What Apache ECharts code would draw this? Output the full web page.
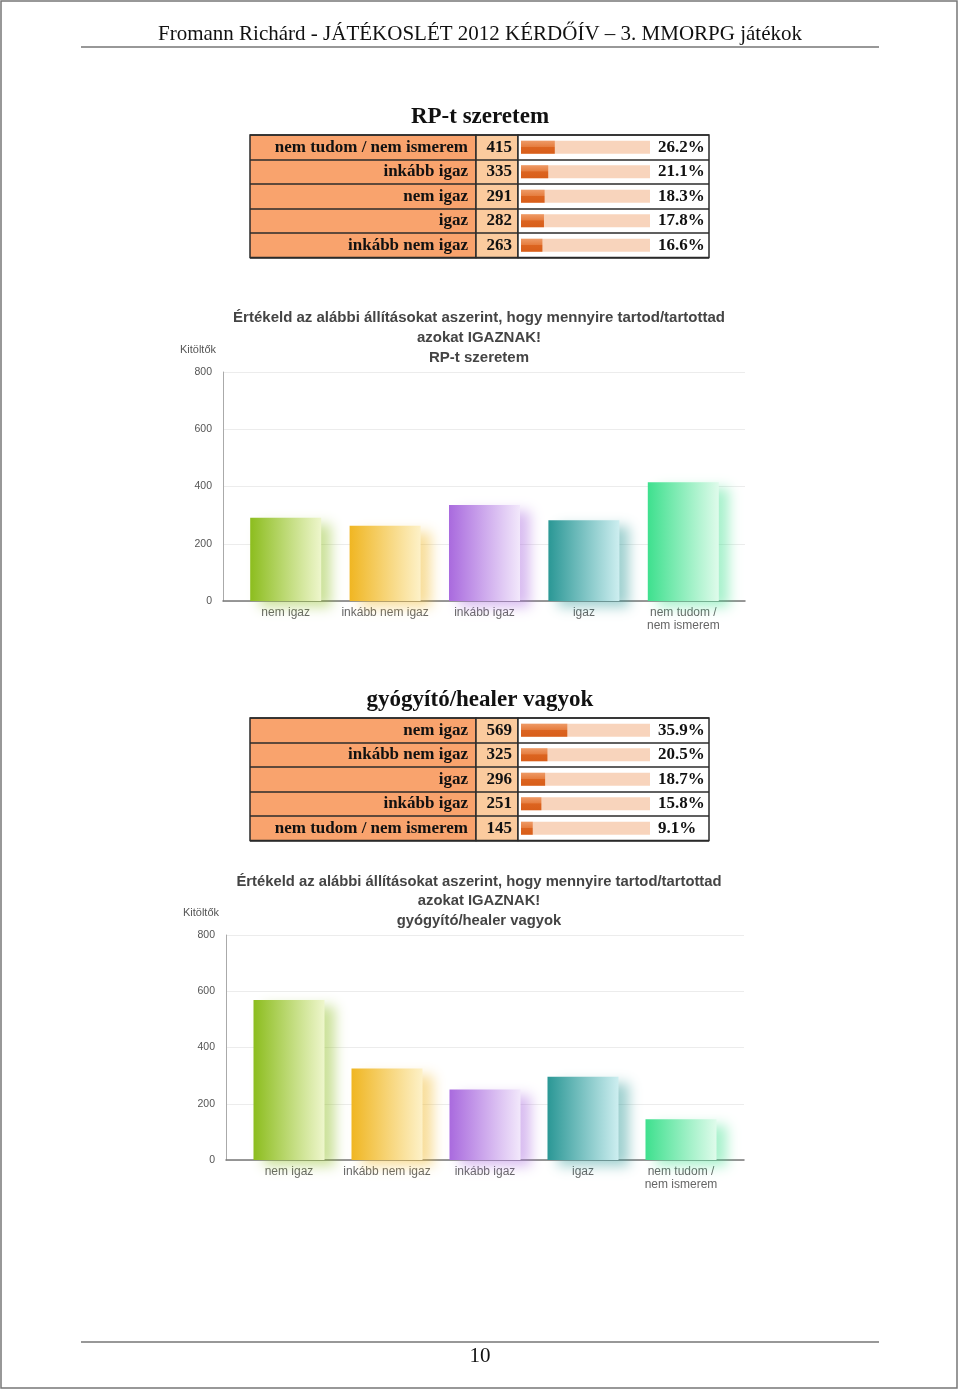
<!DOCTYPE html>
<html>
<head>
<meta charset="utf-8">
<script src="https://cdn.jsdelivr.net/npm/echarts@6/dist/echarts.min.js"></script>
<style>
  html, body { margin: 0; padding: 0; background: #fff; }
  #page { width: 960px; height: 1393px; }
</style>
</head>
<body>
<div id="page"></div>
<script>
// bar charts: same category order in both
const categories = ['nem igaz', 'inkább nem igaz', 'inkább igaz', 'igaz', 'nem tudom /\nnem ismerem'];
const rpValues = [291, 263, 335, 282, 415];
const healerValues = [569, 325, 251, 296, 145];

// tables, sorted by count
const rpRows = ['nem tudom / nem ismerem', 'inkább igaz', 'nem igaz', 'igaz', 'inkább nem igaz'];
const rpCounts = [415, 335, 291, 282, 263];
const rpPercents = [26.2, 21.1, 18.3, 17.8, 16.6];

const healerRows = ['nem igaz', 'inkább nem igaz', 'igaz', 'inkább igaz', 'nem tudom / nem ismerem'];
const healerCounts = [569, 325, 296, 251, 145];
const healerPercents = [35.9, 20.5, 18.7, 15.8, 9.1];

const chartQuestion = 'Értékeld az alábbi állításokat aszerint, hogy mennyire tartod/tartottad\nazokat IGAZNAK!';

// bar colours: saturated left edge -> pale right edge
const barColors = [
  ['#8cbd1e', '#eef6cc', 'rgba(140,189,30,0.45)'],
  ['#f0b622', '#fdf1c8', 'rgba(240,182,34,0.45)'],
  ['#a96ade', '#f2e8fb', 'rgba(169,106,222,0.45)'],
  ['#2a9795', '#cdeef0', 'rgba(42,151,149,0.45)'],
  ['#3ee08e', '#dffbeb', 'rgba(62,224,142,0.45)']
];

const serif = 'Liberation Serif';
const sans = 'Liberation Sans';
const tableFont = { fontFamily: serif, fontWeight: 'bold', fontSize: 17, color: '#111' };

const grids = [], xAxes = [], yAxes = [], series = [], titles = [];

function addGrid(g, x, y) {
  grids.push(Object.assign({ outerBoundsMode: 'none', containLabel: false }, g));
  const i = grids.length - 1;
  xAxes.push(Object.assign({ gridIndex: i }, x));
  yAxes.push(Object.assign({ gridIndex: i }, y));
  return i;
}

function table(top, title, rows, counts, pcts) {
  const h = 122.5;
  const border = '#2b2b2b';
  titles.push({
    text: title, left: 480, top: top - 29, textAlign: 'center', padding: 0,
    textStyle: { fontFamily: serif, fontWeight: 'bold', fontSize: 23, color: '#111' }
  });
  const hiddenX = { type: 'value', min: 0, max: 1, show: false };
  const rowAxis = extra => Object.assign({
    type: 'category', data: rows, inverse: true,
    axisLine: { show: false }, axisTick: { show: false },
    splitLine: { show: true, lineStyle: { color: border, width: 1.5 } }
  }, extra);
  const cellText = Object.assign({ padding: [3, 0, 0, 0] }, tableFont);

  // label column
  addGrid({ show: true, left: 250, top, width: 226, height: h, backgroundColor: '#f9a36d', borderColor: border, borderWidth: 1.5 },
    hiddenX, rowAxis({ position: 'right', axisLabel: Object.assign({ inside: true, margin: 8 }, cellText) }));
  // count column
  addGrid({ show: true, left: 476, top, width: 42, height: h, backgroundColor: '#fbcb9e', borderColor: border, borderWidth: 1.5 },
    hiddenX, rowAxis({ axisLabel: { show: false } }));
  // bar + percent column
  addGrid({ show: true, left: 518, top, width: 191, height: h, backgroundColor: '#ffffff', borderColor: border, borderWidth: 1.5 },
    hiddenX, rowAxis({ axisLabel: { show: false } }));
  // mini bars (0-100 %), counts as axis labels
  const gi = addGrid({ left: 521, top, width: 129, height: h },
    { type: 'value', min: 0, max: 100, show: false },
    rowAxis({ splitLine: { show: false }, axisLabel: Object.assign({ margin: 9, formatter: (v, i) => String(counts[i]) }, cellText) }));

  series.push({
    type: 'bar', xAxisIndex: gi, yAxisIndex: gi, data: pcts, barWidth: 13, silent: true,
    showBackground: true, backgroundStyle: { color: '#f8d4bc' },
    itemStyle: {
      color: new echarts.graphic.LinearGradient(0, 0, 0, 1, [
        { offset: 0, color: '#ee9a66' }, { offset: 0.45, color: '#e67e40' },
        { offset: 0.5, color: '#dc6420' }, { offset: 1, color: '#d85e1a' }
      ])
    },
    label: Object.assign({ show: true, position: [137, '50%'], align: 'left', verticalAlign: 'middle', formatter: '{c}%' }, cellText)
  });
}

function barChart(o) {
  titles.push({
    text: chartQuestion + '\n' + o.subtitle, left: 479, top: o.titleTop, textAlign: 'center', padding: 0,
    textStyle: { fontFamily: sans, fontWeight: 'bold', fontSize: o.titleSize, lineHeight: o.lineHeight, color: '#444' }
  });
  // axes frame
  addGrid({ left: o.axisLeft, top: o.top, width: o.axisWidth, height: o.height },
    { type: 'value', min: 0, max: 1, axisLine: { show: true, lineStyle: { color: '#777', width: 1.5 } },
      axisTick: { show: false }, axisLabel: { show: false }, splitLine: { show: false } },
    { type: 'value', min: 0, max: 800, interval: 200,
      name: 'Kitöltők', nameLocation: 'end', nameGap: 17,
      nameTextStyle: { align: 'right', padding: [0, 7, 0, 0], fontFamily: sans, fontSize: 11, color: '#555' },
      axisLine: { show: true, lineStyle: { color: '#aaa', width: 1 } }, axisTick: { show: false },
      axisLabel: { margin: 11, fontFamily: sans, fontSize: 10.5, color: '#555' },
      splitLine: { show: true, lineStyle: { color: '#ececec', width: 1 } } });
  // bars
  const gi = addGrid({ left: o.barsLeft, top: o.top, width: o.barsWidth, height: o.height },
    { type: 'category', data: categories, axisLine: { show: false }, axisTick: { show: false },
      axisLabel: { interval: 0, margin: 5, fontFamily: sans, fontSize: 12, lineHeight: 13, color: '#666' } },
    { type: 'value', min: 0, max: 800, show: false });
  series.push({
    type: 'bar', xAxisIndex: gi, yAxisIndex: gi, barWidth: 71, silent: true,
    data: o.values.map((v, i) => ({
      value: v,
      itemStyle: {
        color: new echarts.graphic.LinearGradient(0, 0, 1, 0, [
          { offset: 0, color: barColors[i][0] }, { offset: 1, color: barColors[i][1] }
        ]),
        shadowColor: barColors[i][2], shadowBlur: 12, shadowOffsetX: 10, shadowOffsetY: 6
      }
    }))
  });
}

table(135, 'RP-t szeretem', rpRows, rpCounts, rpPercents);
barChart({ subtitle: 'RP-t szeretem', titleTop: 308, titleSize: 15, lineHeight: 20, top: 372, height: 229,
  axisLeft: 223, axisWidth: 522, barsLeft: 236, barsWidth: 497, values: rpValues });
table(718, 'gyógyító/healer vagyok', healerRows, healerCounts, healerPercents);
barChart({ subtitle: 'gyógyító/healer vagyok', titleTop: 872, titleSize: 14.8, lineHeight: 19.5, top: 935, height: 225,
  axisLeft: 226, axisWidth: 518, barsLeft: 240, barsWidth: 490, values: healerValues });

const chart = echarts.init(document.getElementById('page'), null, { renderer: 'canvas' });
chart.setOption({
  animation: false,
  backgroundColor: '#fff',
  title: titles,
  grid: grids,
  xAxis: xAxes,
  yAxis: yAxes,
  series: series,
  graphic: [
    { type: 'rect', shape: { x: 1, y: 1, width: 956, height: 1387 }, style: { fill: 'none', stroke: '#777', lineWidth: 1.5 }, silent: true },
    { type: 'text', x: 480, y: 34, style: { text: 'Fromann Richárd - JÁTÉKOSLÉT 2012 KÉRDŐÍV – 3. MMORPG játékok',
      font: '21px "Liberation Serif"', fill: '#111', align: 'center', verticalAlign: 'middle' }, silent: true },
    { type: 'line', shape: { x1: 81, y1: 47, x2: 879, y2: 47 }, style: { stroke: '#333', lineWidth: 1.2 }, silent: true },
    { type: 'line', shape: { x1: 81, y1: 1342, x2: 879, y2: 1342 }, style: { stroke: '#333', lineWidth: 1.2 }, silent: true },
    { type: 'text', x: 480, y: 1356, style: { text: '10', font: '21px "Liberation Serif"', fill: '#111', align: 'center', verticalAlign: 'middle' }, silent: true }
  ]
});
</script>
</body>
</html>
